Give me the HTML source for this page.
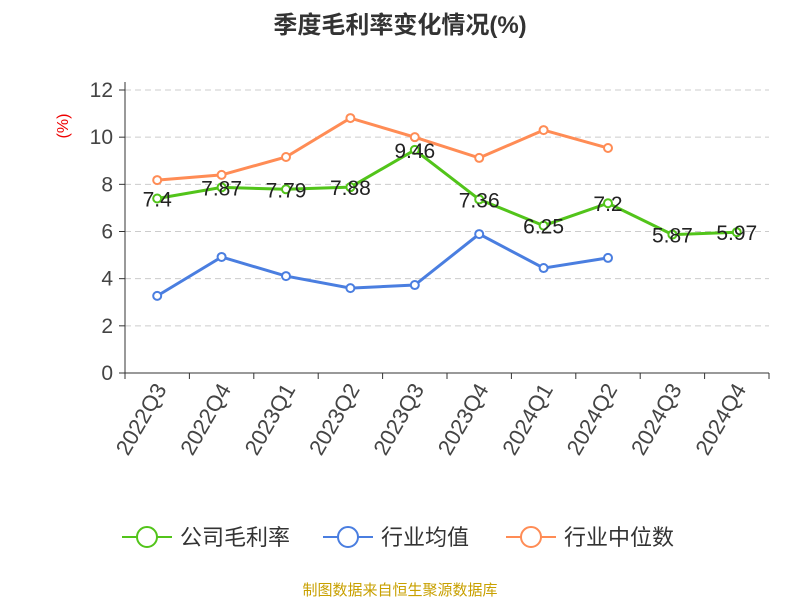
<!DOCTYPE html>
<html><head><meta charset="utf-8"><style>
body{margin:0;background:#fff;font-family:"Liberation Sans","Noto Sans CJK SC",sans-serif}
</style></head><body>
<svg id="c" width="800" height="600" xmlns="http://www.w3.org/2000/svg" style="font-family:'Liberation Sans','Noto Sans CJK SC',sans-serif">
<text x="400" y="33" text-anchor="middle" font-size="24" font-weight="bold" fill="#333">季度毛利率变化情况(%)</text>
<text transform="translate(68,126) rotate(-90)" text-anchor="middle" font-size="16" fill="#e00">(%)</text>
<text x="400" y="595" text-anchor="middle" font-size="15" fill="#c8a000">制图数据来自恒生聚源数据库</text>
<g id="grid"></g><g id="axes"></g><g id="series"></g><g id="legend"></g>
</svg>
<script>
const categories=["2022Q3","2022Q4","2023Q1","2023Q2","2023Q3","2023Q4","2024Q1","2024Q2","2024Q3","2024Q4"];
const companyMargin=[7.4,7.87,7.79,7.88,9.46,7.36,6.25,7.2,5.87,5.97];
const industryAvg=[3.27,4.92,4.11,3.6,3.73,5.89,4.45,4.88];
const industryMedian=[8.18,8.4,9.16,10.81,10.0,9.12,10.3,9.54];
const yTicks=[0,2,4,6,8,10,12];
const NS="http://www.w3.org/2000/svg";
const x0=125,x1=769,y0=373,y1=90,yMax=12;
const bw=(x1-x0)/categories.length;
const xs=i=>x0+bw*(i+0.5);
const ys=v=>y0-(v/yMax)*(y0-y1);
function mk(tag,attrs,parent,text){const e=document.createElementNS(NS,tag);for(const k in attrs)e.setAttribute(k,attrs[k]);if(text!=null)e.textContent=text;document.getElementById(parent).appendChild(e);return e;}
yTicks.forEach(t=>{
 const y=ys(t);
 if(t>0){const g=mk("line",{x1:x0,x2:x1,y1:y,y2:y,stroke:"#ccc","stroke-dasharray":"6,4"},"grid");
 
 }
 const tk=mk("line",{x1:x0-6,x2:x0,y1:y,y2:y,stroke:"#333"},"axes");
 
 
 const l=mk("text",{x:x0-12,y:y+7,"text-anchor":"end","font-size":21,fill:"#444"},"axes",t);
 
 
});
const ya=mk("line",{x1:x0,x2:x0,y1:y1-8,y2:y0,stroke:"#333"},"axes");


const xa=mk("line",{x1:x0,x2:x1,y1:y0,y2:y0,stroke:"#333"},"axes");


for(let i=0;i<=categories.length;i++){const t=mk("line",{x1:x0+bw*i,x2:x0+bw*i,y1:y0,y2:y0+6,stroke:"#333"},"axes");

}
categories.forEach((c,i)=>{
 const l=mk("text",{transform:`translate(${xs(i)+10},${y0+16}) rotate(-60)`,"text-anchor":"end","font-size":22,fill:"#444"},"axes",c);
 
 
});
function series(vals,color,name,labels){
 const pts=vals.map((v,i)=>xs(i)+","+ys(v)).join(" ");
 const pl=mk("polyline",{points:pts,fill:"none",stroke:color,"stroke-width":3},"series");
 
 
 vals.forEach((v,i)=>{
  const c=mk("circle",{cx:xs(i),cy:ys(v),r:4,fill:"#fff",stroke:color,"stroke-width":2},"series");
  
  
 });
 if(labels)vals.forEach((v,i)=>{
  const t=mk("text",{x:xs(i),y:ys(v)+8,"text-anchor":"middle","font-size":21,fill:"#222"},"series",v);
  
  
 });
}
series(industryAvg,"#4a7ee0","industry-average",false);
series(industryMedian,"#ff8c55","industry-median",false);
series(companyMargin,"#52c41a","company-margin",true);
const leg=[["公司毛利率","#52c41a",122],["行业均值","#4a7ee0",323],["行业中位数","#ff8c55",506]];
leg.forEach(([n,c,x])=>{
 const l=mk("line",{x1:x,x2:x+50,y1:537,y2:537,stroke:c,"stroke-width":2},"legend");
 
 
 const ci=mk("circle",{cx:x+25,cy:537,r:10,fill:"#fff",stroke:c,"stroke-width":2},"legend");
 
 
 const t=mk("text",{x:x+58,y:545,"font-size":22,fill:"#333"},"legend",n);
 
 
});
</script>
</body></html>
